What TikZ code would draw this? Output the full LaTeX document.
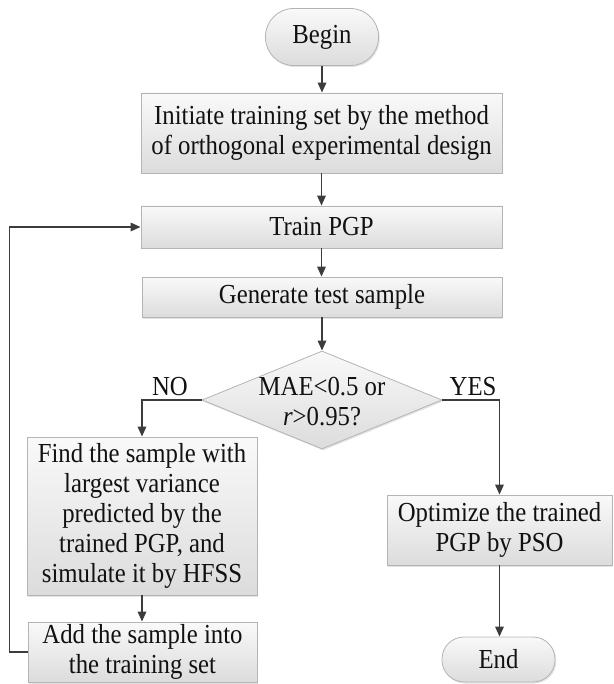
\documentclass[tikz,border=0pt]{standalone}
\usepackage{fontspec}
\setmainfont{Liberation Serif}[FakeStretch=0.9]
\usetikzlibrary{arrows.meta,shapes.geometric,shadows,calc}
\definecolor{txt}{HTML}{111111}
\definecolor{edge}{HTML}{B4B4B4}
\definecolor{arr}{HTML}{3C3C3C}
\definecolor{topc}{HTML}{F9F9F9}
\definecolor{botc}{HTML}{DCDCDC}
\tikzset{
  base/.style={draw=edge, line width=0.8pt, top color=topc, bottom color=botc,
    text=txt, align=center, inner sep=0pt,
    font=\fontsize{27.5}{30}\selectfont,
    drop shadow={opacity=0.22, shadow xshift=1.2pt, shadow yshift=-1.5pt}},
  procbox/.style={base, rectangle},
  pill/.style={base, rectangle, rounded corners=#1},
  decbox/.style={base, diamond},
  lbl/.style={text=txt, font=\fontsize{27.5}{30}\selectfont, inner sep=0pt},
  flow/.style={draw=arr, line width=1.6pt, -{Triangle[length=10pt,width=8.5pt]}}
}
\begin{document}
\begin{tikzpicture}[x=1pt,y=-1pt]
\useasboundingbox (0,0) rectangle (613,684);
\node[pill=28pt, minimum width=113pt, minimum height=57pt] (begin) at (322,37) {Begin};
\node[procbox, minimum width=361pt, minimum height=80pt] (init) at (321.5,133)
  {Initiate training set by the method\\of orthogonal experimental design};
\node[procbox, minimum width=361pt, minimum height=42pt] (train) at (321.5,227) {Train PGP};
\node[procbox, minimum width=360pt, minimum height=40pt] (gen) at (322,297) {Generate test sample};
\node[decbox, minimum width=240pt, minimum height=98pt] (dec) at (322,400) {};
\node[lbl, align=center] (dectext) at (322,402) {MAE<0.5 or\\\textit{r}>0.95?};
\node[lbl] (no) at (170,387) {NO};
\node[lbl] (yes) at (473,387) {YES};
\node[procbox, minimum width=230pt, minimum height=158pt] (find) at (142,516)
  {Find the sample with\\largest variance\\predicted by the\\trained PGP, and\\simulate it by HFSS};
\node[procbox, minimum width=229pt, minimum height=60pt] (add) at (142.5,652)
  {Add the sample into\\the training set};
\node[procbox, minimum width=225pt, minimum height=70pt] (opt) at (499.5,530)
  {Optimize the trained\\PGP by PSO};
\node[pill=22pt, minimum width=113pt, minimum height=45pt] (end) at (498.5,659.5) {End};
\coordinate (loop) at (9.5,652);

\draw[flow] (begin.south) -- (begin.south |- init.north);
\draw[flow] (init.south) -- (init.south |- train.north);
\draw[flow] (train.south) -- (train.south |- gen.north);
\draw[flow] (gen.south) -- (gen.south |- dec.north);
\draw[flow] (dec.west) -| (find.north);
\draw[flow] (dec.east) -| (opt.north);
\draw[flow] (find.south) -- (find.south |- add.north);
\draw[flow] (opt.south) -- (opt.south |- end.north);
\draw[flow] (add.west) -- (loop) |- (train.west);
\end{tikzpicture}
\end{document}
